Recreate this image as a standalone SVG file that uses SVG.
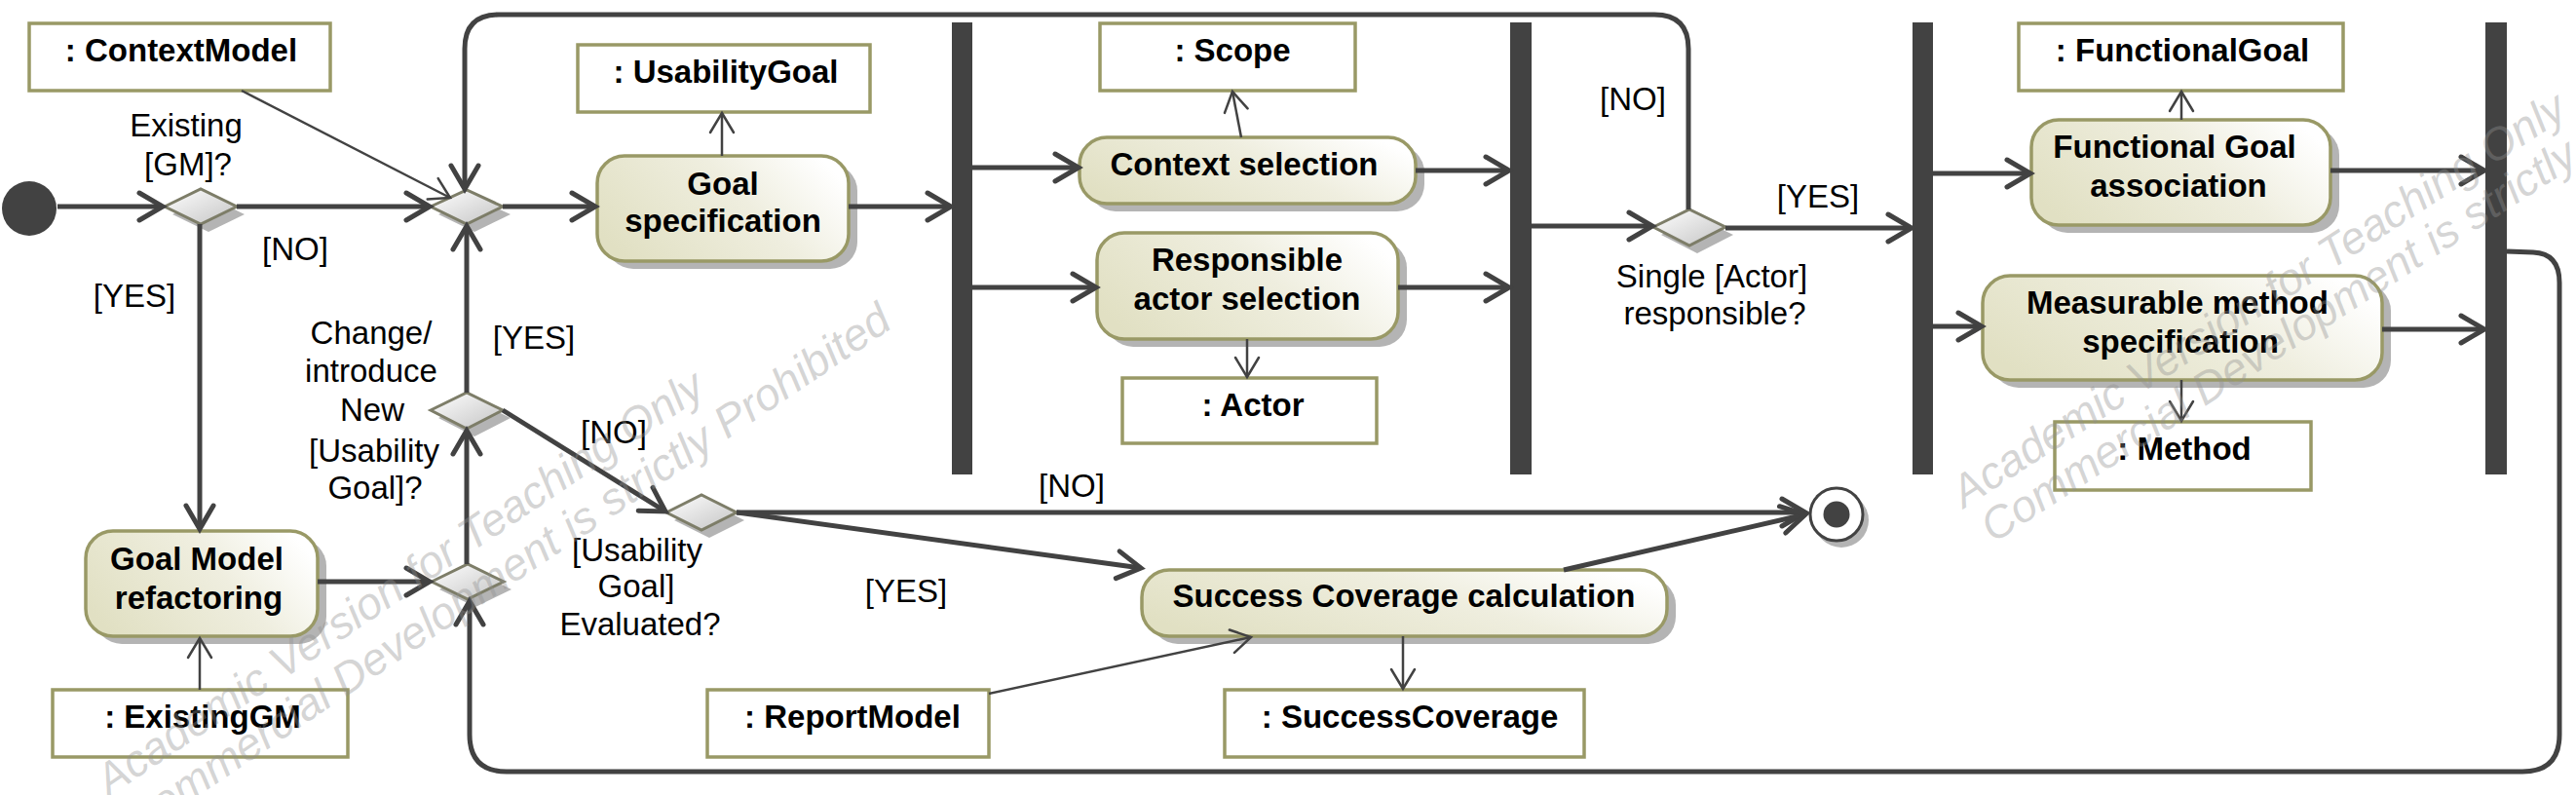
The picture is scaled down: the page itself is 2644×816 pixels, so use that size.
<svg xmlns="http://www.w3.org/2000/svg" width="2644" height="816" viewBox="0 0 2644 816">
<style>
.cf{fill:none;stroke:#424242;stroke-width:5;marker-end:url(#ah)}
.of{fill:none;stroke:#424242;stroke-width:2.5;marker-end:url(#ahs)}
.loop{fill:none;stroke:#424242;stroke-width:5;marker-end:url(#ah)}
.act{fill:url(#ag);stroke:#999966;stroke-width:3.5}
.ash{fill:#b4b4b4}
.obj{fill:#ffffff;stroke:#999966;stroke-width:3.5}
.dia{fill:url(#dg);stroke:#7d7d68;stroke-width:3}
.dsh{fill:#b4b4b4}
.bar{fill:#424242}
.t{font-family:"Liberation Sans",Arial,sans-serif;font-size:33px;font-weight:bold;fill:#000;text-anchor:middle}
.g{font-family:"Liberation Sans",Arial,sans-serif;font-size:33px;fill:#000;text-anchor:middle}
.wm{font-family:"Liberation Sans",Arial,sans-serif;font-size:46px;font-style:italic;fill:#909090;fill-opacity:0.38}
</style>
<defs>
<linearGradient id="ag" x1="0" y1="0.7" x2="1" y2="0.3">
<stop offset="0" stop-color="#e1e0c3"/>
<stop offset="0.6" stop-color="#efeedf"/>
<stop offset="1" stop-color="#ffffff"/>
</linearGradient>
<linearGradient id="dg" x1="0" y1="0" x2="1" y2="1">
<stop offset="0" stop-color="#ffffff"/>
<stop offset="1" stop-color="#c4c4c4"/>
</linearGradient>
<marker id="ah" markerUnits="userSpaceOnUse" viewBox="-30 -20 40 40" markerWidth="40" markerHeight="40" refX="0" refY="0" orient="auto">
<path d="M-24,-14 L0,0 L-24,14" fill="none" stroke="#424242" stroke-width="5" stroke-linecap="round"/>
</marker>
<marker id="ahs" markerUnits="userSpaceOnUse" viewBox="-25 -15 30 30" markerWidth="30" markerHeight="30" refX="0" refY="0" orient="auto">
<path d="M-20,-12 L0,0 L-20,12" fill="none" stroke="#424242" stroke-width="2.5" stroke-linecap="round"/>
</marker>
</defs>
<rect x="0" y="0" width="2644" height="816" fill="#ffffff"/>

<g id="initial"><circle cx="30" cy="214" r="28" fill="#424242"/></g>

<g id="final">
<circle cx="1890" cy="534" r="28" fill="#b4b4b4"/>
<circle cx="1885" cy="528" r="27" fill="#ffffff" stroke="#424242" stroke-width="3"/>
<circle cx="1885" cy="528" r="13.5" fill="#424242"/>
</g>

<g id="dec-existing-gm">
<polygon class="dsh" points="177,220 214,202 251,220 214,238"/>
<polygon class="dia" points="169,212 206,194 243,212 206,230"/>
<text class="g" x="191" y="140">Existing</text>
<text class="g" x="193" y="180">[GM]?</text>
</g>
<g id="merge-top">
<polygon class="dsh" points="450,220 487,203 524,220 487,238"/>
<polygon class="dia" points="442,212 479,195 516,212 479,230"/>
</g>
<g id="dec-change">
<polygon class="dsh" points="450,429 487,411 524,429 487,448"/>
<polygon class="dia" points="442,421 479,403 516,421 479,440"/>
<text class="g" x="381" y="353">Change/</text>
<text class="g" x="381" y="392">introduce</text>
<text class="g" x="382" y="432">New</text>
<text class="g" x="384" y="474">[Usability</text>
<text class="g" x="385" y="512">Goal]?</text>
</g>
<g id="merge-bottom">
<polygon class="dsh" points="451,605 488,587 525,605 488,623"/>
<polygon class="dia" points="443,597 480,579 517,597 480,615"/>
</g>
<g id="dec-evaluated">
<polygon class="dsh" points="692,534 728,516 764,534 728,552"/>
<polygon class="dia" points="684,526 720,508 756,526 720,544"/>
<text class="g" x="654" y="576">[Usability</text>
<text class="g" x="653" y="613">Goal]</text>
<text class="g" x="657" y="652">Evaluated?</text>
</g>
<g id="dec-single-actor">
<polygon class="dsh" points="1705,241 1742,223 1779,241 1742,260"/>
<polygon class="dia" points="1697,233 1734,215 1771,233 1734,252"/>
<text class="g" x="1757" y="295">Single [Actor]</text>
<text class="g" x="1760" y="333">responsible?</text>
</g>

<g id="guards">
<text class="g" x="303" y="267">[NO]</text>
<text class="g" x="138" y="315">[YES]</text>
<text class="g" x="548" y="358">[YES]</text>
<text class="g" x="630" y="455">[NO]</text>
<text class="g" x="930" y="618">[YES]</text>
<text class="g" x="1100" y="510">[NO]</text>
<text class="g" x="1676" y="113">[NO]</text>
<text class="g" x="1866" y="213">[YES]</text>
</g>

<g id="fork1"><rect class="bar" x="977" y="23" width="21" height="464"/></g>
<g id="join1"><rect class="bar" x="1550" y="23" width="22" height="464"/></g>
<g id="fork2"><rect class="bar" x="1963" y="23" width="21" height="464"/></g>
<g id="join2"><rect class="bar" x="2551" y="23" width="22" height="464"/></g>

<g id="goal-spec">
<rect class="ash" x="622" y="168" width="258" height="108" rx="28"/>
<rect class="act" x="613" y="160" width="258" height="108" rx="28"/>
<text class="t" x="742" y="200">Goal</text>
<text class="t" x="742" y="238">specification</text>
</g>
<g id="context-sel">
<rect class="ash" x="1117" y="149" width="345" height="68" rx="28"/>
<rect class="act" x="1108" y="141" width="345" height="68" rx="28"/>
<text class="t" x="1277" y="180">Context selection</text>
</g>
<g id="resp-actor">
<rect class="ash" x="1135" y="247" width="309" height="109" rx="28"/>
<rect class="act" x="1126" y="239" width="309" height="109" rx="28"/>
<text class="t" x="1280" y="278">Responsible</text>
<text class="t" x="1280" y="318">actor selection</text>
</g>
<g id="gm-refactoring">
<rect class="ash" x="97" y="553" width="238" height="108" rx="28"/>
<rect class="act" x="88" y="545" width="238" height="108" rx="28"/>
<text class="t" x="202" y="585">Goal Model</text>
<text class="t" x="204" y="625">refactoring</text>
</g>
<g id="success-cov-calc">
<rect class="ash" x="1181" y="593" width="539" height="68" rx="28"/>
<rect class="act" x="1172" y="585" width="539" height="68" rx="28"/>
<text class="t" x="1441" y="623">Success Coverage calculation</text>
</g>
<g id="fg-assoc">
<rect class="ash" x="2094" y="131" width="307" height="108" rx="28"/>
<rect class="act" x="2085" y="123" width="307" height="108" rx="28"/>
<text class="t" x="2232" y="162">Functional Goal</text>
<text class="t" x="2236" y="202">association</text>
</g>
<g id="mm-spec">
<rect class="ash" x="2044" y="291" width="410" height="107" rx="28"/>
<rect class="act" x="2035" y="283" width="410" height="107" rx="28"/>
<text class="t" x="2235" y="322">Measurable method</text>
<text class="t" x="2238" y="362">specification</text>
</g>

<g id="obj-context-model">
<rect class="obj" x="30" y="24" width="309" height="69"/>
<text class="t" x="186" y="63">: ContextModel</text>
</g>
<g id="obj-usability-goal">
<rect class="obj" x="593" y="46" width="300" height="69"/>
<text class="t" x="745" y="85">: UsabilityGoal</text>
</g>
<g id="obj-scope">
<rect class="obj" x="1129" y="24" width="262" height="69"/>
<text class="t" x="1265" y="63">: Scope</text>
</g>
<g id="obj-actor">
<rect class="obj" x="1152" y="388" width="261" height="67"/>
<text class="t" x="1286" y="427">: Actor</text>
</g>
<g id="obj-existing-gm">
<rect class="obj" x="54" y="708" width="303" height="69"/>
<text class="t" x="208" y="747">: ExistingGM</text>
</g>
<g id="obj-report-model">
<rect class="obj" x="726" y="708" width="289" height="69"/>
<text class="t" x="875" y="747">: ReportModel</text>
</g>
<g id="obj-success-coverage">
<rect class="obj" x="1257" y="708" width="369" height="69"/>
<text class="t" x="1447" y="747">: SuccessCoverage</text>
</g>
<g id="obj-functional-goal">
<rect class="obj" x="2072" y="24" width="333" height="69"/>
<text class="t" x="2240" y="63">: FunctionalGoal</text>
</g>
<g id="obj-method">
<rect class="obj" x="2109" y="433" width="263" height="70"/>
<text class="t" x="2242" y="472">: Method</text>
</g>

<g id="connectors">
<line class="cf" x1="59" y1="212" x2="167" y2="212"/>
<line class="cf" x1="243" y1="212" x2="441" y2="212"/>
<line class="of" x1="248" y1="93" x2="462" y2="203"/>
<line class="cf" x1="516" y1="212" x2="611" y2="212"/>
<line class="cf" x1="205" y1="230" x2="205" y2="543"/>
<line class="of" x1="205" y1="708" x2="205" y2="655"/>
<line class="cf" x1="326" y1="597" x2="441" y2="597"/>
<line class="cf" x1="479" y1="579" x2="479" y2="442"/>
<line class="cf" x1="479" y1="403" x2="479" y2="232"/>
<line class="cf" x1="516" y1="421" x2="683" y2="525"/>
<line class="cf" x1="756" y1="526" x2="1853" y2="526"/>
<line class="cf" x1="756" y1="526" x2="1171" y2="583"/>
<line class="cf" x1="1605" y1="585" x2="1853" y2="528"/>
<line class="of" x1="1015" y1="712" x2="1284" y2="654"/>
<line class="of" x1="1440" y1="653" x2="1440" y2="707"/>
<line class="of" x1="741" y1="160" x2="741" y2="116"/>
<line class="cf" x1="871" y1="212" x2="976" y2="212"/>
<line class="cf" x1="998" y1="172" x2="1107" y2="172"/>
<line class="cf" x1="998" y1="295" x2="1125" y2="295"/>
<line class="of" x1="1274" y1="141" x2="1265" y2="94"/>
<line class="of" x1="1280" y1="348" x2="1280" y2="387"/>
<line class="cf" x1="1453" y1="175" x2="1549" y2="175"/>
<line class="cf" x1="1435" y1="295" x2="1549" y2="295"/>
<line class="cf" x1="1572" y1="232" x2="1696" y2="232"/>
<line class="cf" x1="1771" y1="234" x2="1962" y2="234"/>
<path class="loop" d="M1733,215 L1733,50 Q1733,15 1698,15 L512,15 Q477,15 477,50 L477,194"/>
<line class="cf" x1="1984" y1="178" x2="2084" y2="178"/>
<line class="cf" x1="1984" y1="335" x2="2034" y2="335"/>
<line class="of" x1="2239" y1="123" x2="2239" y2="94"/>
<line class="of" x1="2239" y1="390" x2="2239" y2="432"/>
<line class="cf" x1="2392" y1="175" x2="2550" y2="175"/>
<line class="cf" x1="2445" y1="338" x2="2550" y2="338"/>
<path class="loop" d="M2573,258 L2600,259 Q2627,260 2627,290 L2627,754 Q2627,792 2589,792 L520,792 Q482,792 482,754 L482,617"/>
</g>

<g id="watermark">
<text class="wm" transform="translate(112,818) rotate(-34)">Academic Version for Teaching Only</text>
<text class="wm" transform="translate(140,860) rotate(-34)">Commercial Development is strictly Prohibited</text>
<text class="wm" transform="translate(2016,522) rotate(-33)">Academic Version for Teaching Only</text>
<text class="wm" transform="translate(2046,558) rotate(-33)">Commercial Development is strictly Prohibited</text>
</g>
</svg>
